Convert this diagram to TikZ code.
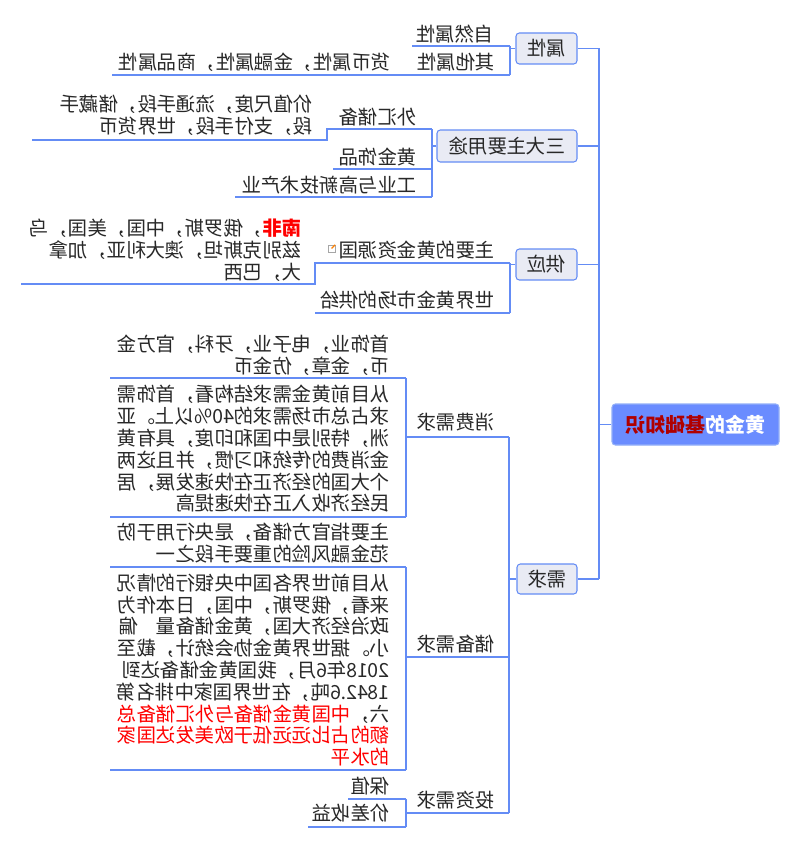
\documentclass[tikz,border=0pt]{standalone}
\usepackage{fontspec}
\usepackage{graphicx}
\setmainfont{Noto Sans CJK SC}
\definecolor{lnc}{RGB}{100,140,245}
\definecolor{boxc}{RGB}{233,235,244}
\definecolor{rootc}{RGB}{106,140,255}
\definecolor{rootred}{RGB}{175,0,0}
\definecolor{redc}{RGB}{255,0,0}
\definecolor{txtc}{RGB}{40,40,40}
\newcommand\mir[1]{\reflectbox{#1}}
\newcommand\lne[1]{\hbox{#1}}
\newcommand\lnefull[1]{\hbox to 203pt{#1}}
\newcommand\mlines[1]{\reflectbox{\vbox{\baselineskip=16.35pt\lineskip=0pt\lineskiplimit=-100pt #1}}}
\tikzset{
  ln/.style={draw=lnc, line width=1pt},
  lvone/.style={draw=lnc, fill=boxc, rounded corners=2.5pt, line width=0.8pt, inner sep=0pt,
    text=txtc, font=\fontsize{14.6pt}{16.4pt}\selectfont},
  tx/.style={inner sep=0pt, anchor=east, text=txtc, font=\fontsize{14.6pt}{16.4pt}\selectfont},
}
\begin{document}
\begin{tikzpicture}[x=0.75pt, y=-0.75pt]
\useasboundingbox (0,0) rectangle (800,849);

% root and level-1 boxes
\node[draw=lnc!70, fill=rootc, rounded corners=2.5pt, line width=0.8pt, inner sep=0pt,
  minimum width=125.25pt, minimum height=30.75pt, font=\fontsize{15pt}{17pt}\selectfont\bfseries]
  (root) at (695.5,424.5) {\mir{\textcolor{white}{黄金的}\textcolor{rootred}{基础知识}}};
\node[lvone, minimum width=45.75pt, minimum height=23.25pt] (shu) at (546.5,48.5) {\mir{属性}};
\node[lvone, minimum width=105pt, minimum height=24pt] (sanda) at (507,146) {\mir{三大主要用途}};
\node[lvone, minimum width=45.75pt, minimum height=23.25pt] (gong) at (546.5,264.5) {\mir{供应}};
\node[lvone, minimum width=45pt, minimum height=22.5pt] (xq) at (547,579) {\mir{需求}};

% trunk
\coordinate (tBot) at (599,579);
\draw[ln] (shu.east) -| (tBot);
\draw[ln] (sanda.east) -- (sanda.east -| tBot);
\draw[ln] (gong.east) -- (gong.east -| tBot);
\draw[ln] (xq.east) -- (tBot);
\draw[ln] (root.west) -- (root.west -| tBot);

% 属性 children
\node[tx] (tzr) at (494,34) {\mir{自然属性}};
\node[tx] (tqt) at (495,62) {\mir{其他属性}};
\node[tx] (thb) at (391,62) {\mir{货币属性，金融属性，商品属性}};
\coordinate (a1) at (510,46); \coordinate (a2) at (510,75);
\coordinate (a1l) at (412,46); \coordinate (a2l) at (112,75);
\draw[ln] (shu.west) -- (shu.west -| a1);
\draw[ln] (a1) -- (a2);
\draw[ln] (a1) -- (a1l);
\draw[ln] (a2) -- (a2l);

% 三大主要用途 children
\node[tx] (twh) at (417,117) {\mir{外汇储备}};
\node[tx] (tjz) at (313,115.5) {\mlines{\lne{价值尺度，流通手段，储藏手}\lne{段，支付手段，世界货币}}};
\node[tx] (thj) at (417,157) {\mir{黄金饰品}};
\node[tx] (tgy) at (417,185) {\mir{工业与高新技术产业}};
\coordinate (s1) at (432,129); \coordinate (s2) at (432,169); \coordinate (s3) at (432,197);
\coordinate (s1m) at (327,129); \coordinate (s1d) at (327,140); \coordinate (s1l) at (32,140);
\coordinate (s2l) at (333,169); \coordinate (s3l) at (235,197);
\draw[ln] (sanda.west) -- (sanda.west -| s1);
\draw[ln] (s1) -- (s3);
\draw[ln] (s1) -- (s1m) -- (s1d) -- (s1l);
\draw[ln] (s2) -- (s2l);
\draw[ln] (s3) -- (s3l);

% 供应 children
\node[tx] (tzy) at (495,250) {\mir{主要的黄金资源国}};
\node[draw=black!35, fill=white, line width=0.5pt, inner sep=0pt, minimum size=5pt] (icon) at (331.5,248.5) {};
\draw[orange, line width=1pt] (icon.north east) -- (icon.center);
\node[tx] (tnf) at (302,250.5) {\mlines{\lne{\textcolor{redc}{\bfseries 南非}，俄罗斯，中国，美国，乌}\lne{兹别克斯坦，澳大利亚，加拿}\lne{大，巴西}}};
\node[tx] (tsj) at (495,300) {\mir{世界黄金市场的供给}};
\coordinate (g1) at (510,263); \coordinate (g2) at (510,313);
\coordinate (g1m) at (315,263); \coordinate (g1d) at (315,284); \coordinate (g1l) at (21,284);
\coordinate (g2l) at (315,313);
\draw[ln] (gong.west) -- (gong.west -| g1);
\draw[ln] (g1) -- (g2);
\draw[ln] (g1) -- (g1m) -- (g1d) -- (g1l);
\draw[ln] (g2) -- (g2l);

% 需求 children
\node[tx] (txf) at (495,422) {\mir{消费需求}};
\node[tx] (tcb) at (495,644) {\mir{储备需求}};
\node[tx] (ttz) at (495,800) {\mir{投资需求}};
\coordinate (x1) at (509,437); \coordinate (x2) at (509,657); \coordinate (x3) at (509,813);
\draw[ln] (xq.west) -- (xq.west -| x1);
\draw[ln] (x1) -- (x3);

% 消费需求
\node[tx] (tss) at (390,355) {\mlines{\lne{首饰业，电子业，牙科，官方金}\lne{币，金章，仿金币}}};
\node[tx] (tp1) at (390,449) {\mlines{\lne{从目前黄金需求结构看，首饰需}\lnefull{求占总市场需求的40\%以上。\hfill 亚}\lne{洲，特别是中国和印度，具有黄}\lne{金消费的传统和习惯，并且这两}\lne{个大国的经济正在快速发展，居}\lne{民经济收入正在快速提高}}};
\coordinate (c0) at (406,437); \coordinate (c1) at (406,378); \coordinate (c2) at (406,517);
\coordinate (c1l) at (110,378); \coordinate (c2l) at (110,517);
\draw[ln] (x1) -- (c0);
\draw[ln] (c1) -- (c2);
\draw[ln] (c1) -- (c1l);
\draw[ln] (c2) -- (c2l);

% 储备需求
\node[tx] (tzg) at (390,543) {\mlines{\lne{主要指官方储备，是央行用于防}\lne{范金融风险的重要手段之一}}};
\node[tx] (tp2) at (390,670) {\mlines{\lne{从目前世界各国中央银行的情况}\lne{来看，俄罗斯，中国，日本作为}\lnefull{政治经济大国，黄金储备量\hfill 偏}\lne{小。据世界黄金协会统计，截至}\lne{2018年6月，我国黄金储备达到}\lne{1842.6吨，在世界国家中排名第}\lne{六，\textcolor{redc}{中国黄金储备与外汇储备总}}\lne{\textcolor{redc}{额的占比远远低于欧美发达国家}}\lne{\textcolor{redc}{的水平}}}};
\coordinate (r0) at (406,657); \coordinate (r1) at (406,567); \coordinate (r2) at (406,770);
\coordinate (r1l) at (110,567); \coordinate (r2l) at (110,770);
\draw[ln] (x2) -- (r0);
\draw[ln] (r1) -- (r2);
\draw[ln] (r1) -- (r1l);
\draw[ln] (r2) -- (r2l);

% 投资需求
\node[tx] (tbz) at (390,786) {\mir{保值}};
\node[tx] (tjc) at (390,813) {\mir{价差收益}};
\coordinate (v0) at (406,813); \coordinate (v1) at (406,799); \coordinate (v2) at (406,827);
\coordinate (v1l) at (348,799); \coordinate (v2l) at (308,827);
\draw[ln] (x3) -- (v0);
\draw[ln] (v1) -- (v2);
\draw[ln] (v1) -- (v1l);
\draw[ln] (v2) -- (v2l);
\end{tikzpicture}
\end{document}
